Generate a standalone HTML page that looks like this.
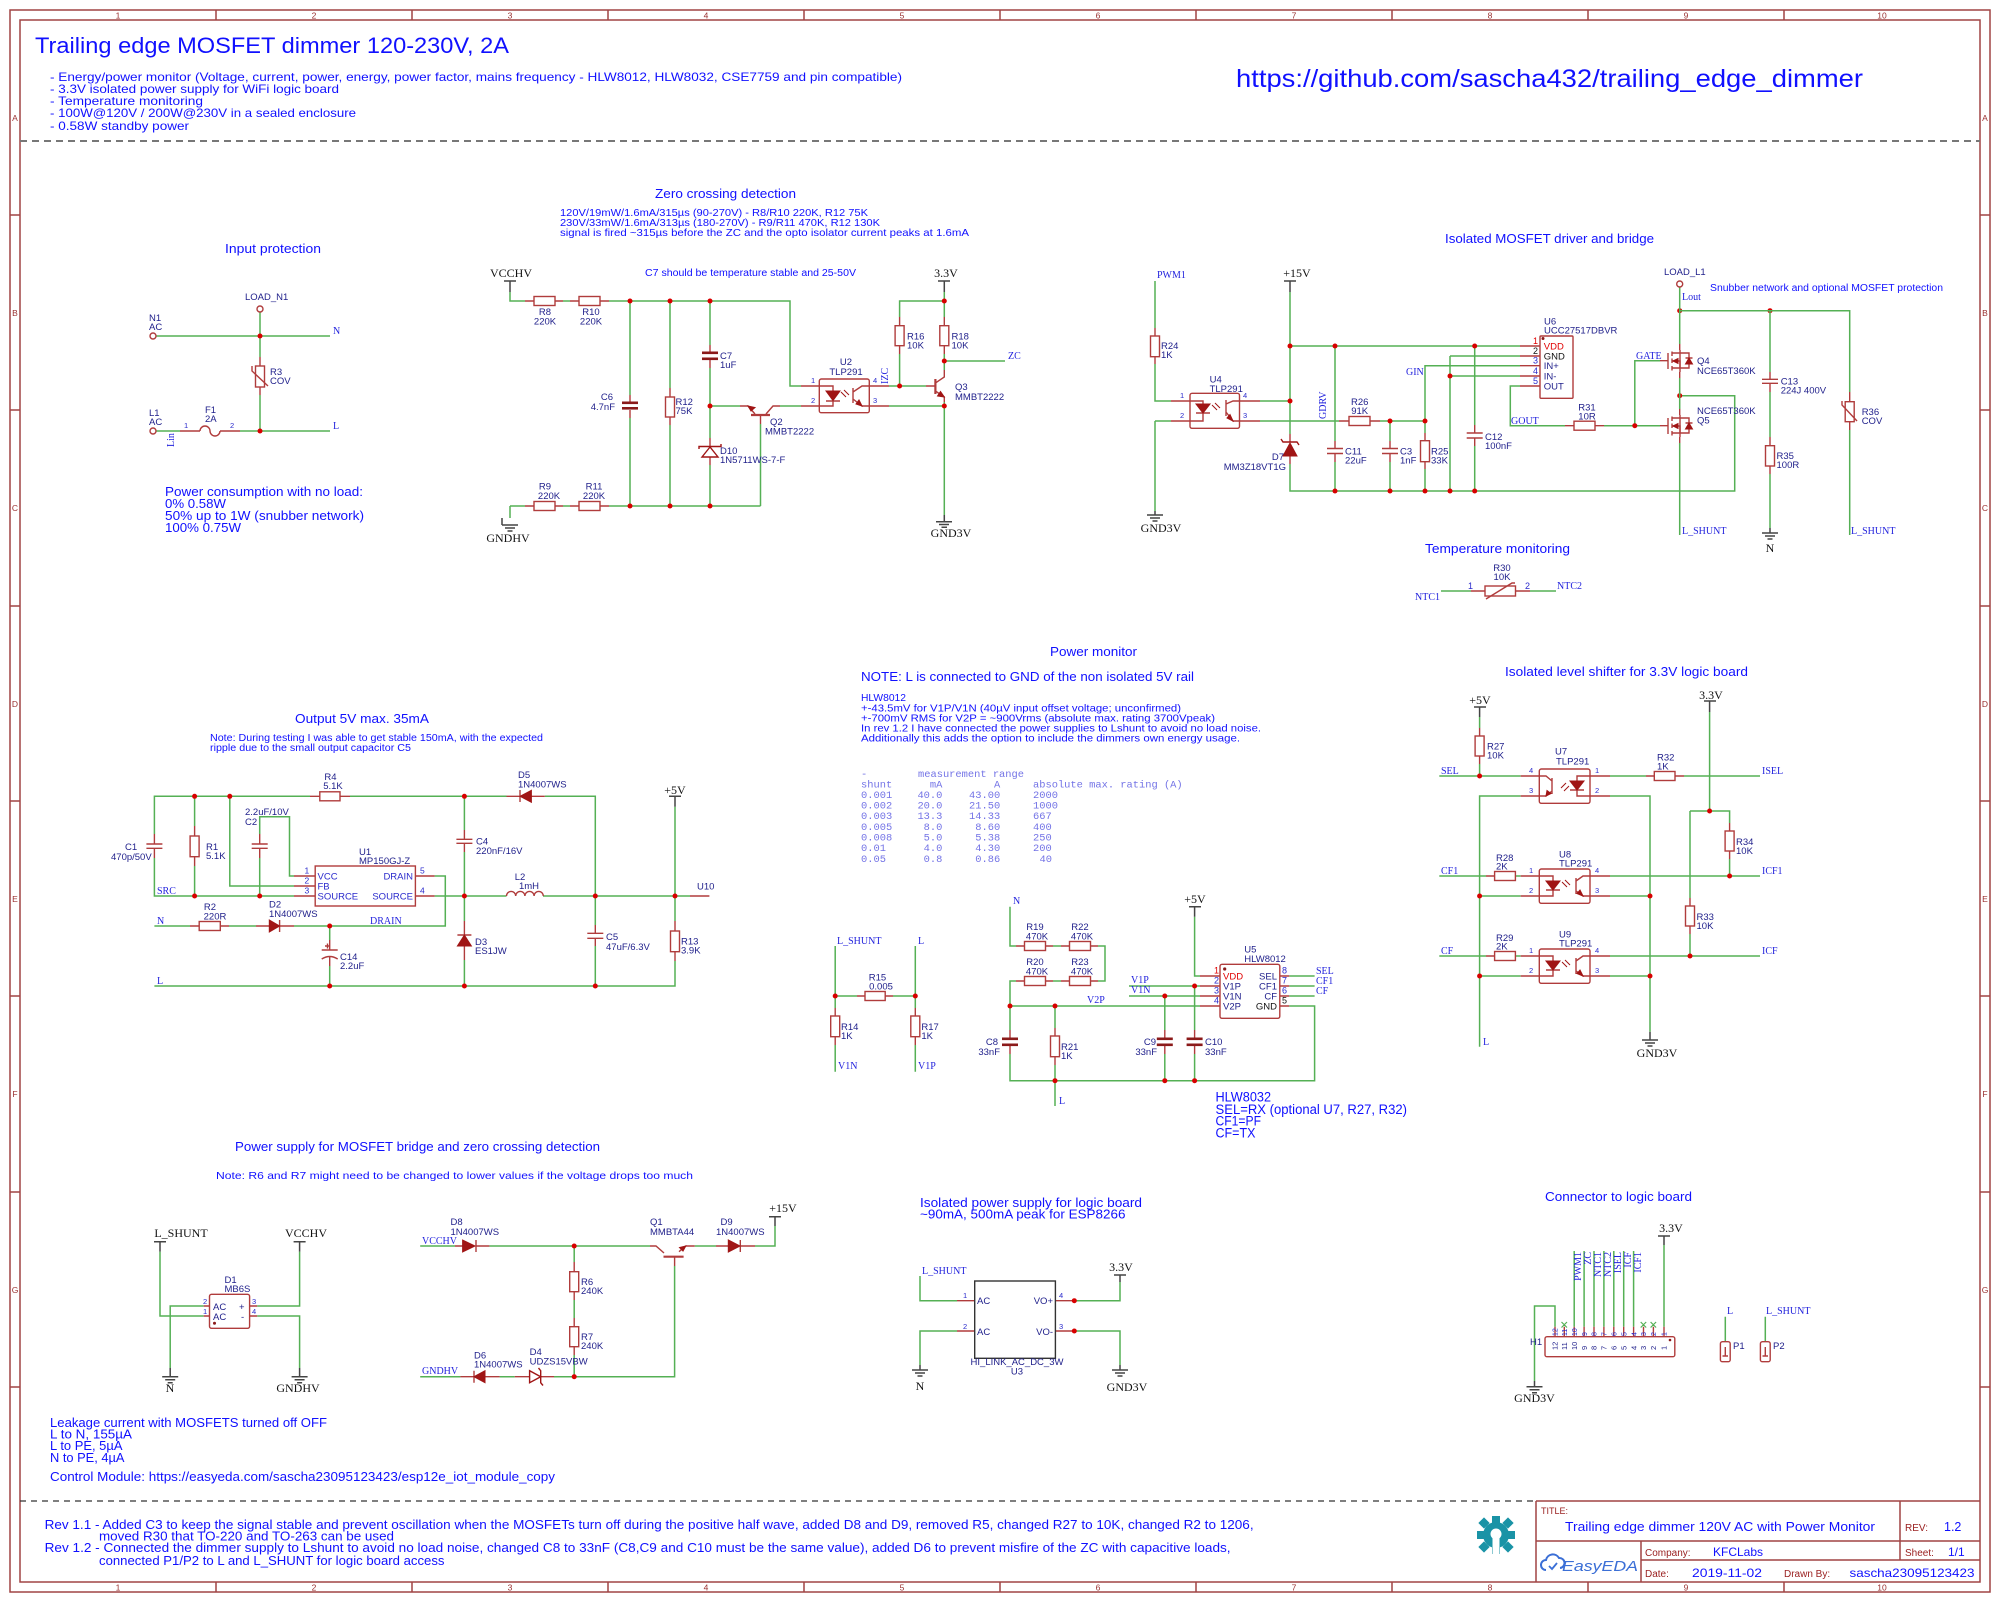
<!DOCTYPE html>
<html><head><meta charset="utf-8"><style>
html,body{margin:0;padding:0;background:#fff}
svg{display:block;font-family:"Liberation Sans",sans-serif}
.w{stroke:#55b055;stroke-width:1.5;fill:none}
.r{stroke:#b03c3c;stroke-width:1.4;fill:none}
.bd{stroke:#b03c3c;stroke-width:1.4;fill:#fff}
.pl{fill:#8b1a1a}
.dk{fill:#a01515;stroke:#a01515;stroke-width:1}
.j{fill:#d80000}
.pw{stroke:#444;stroke-width:1.5;fill:none}
.fr{stroke:#a04444;stroke-width:1.5;fill:none}
.t{fill:#1e1e8a;font-size:9.5px}
.nb{fill:#1010ff}
.sf{font-family:"Liberation Serif",serif;fill:#2323dd;font-size:10px}
.pk{font-family:"Liberation Serif",serif;fill:#111;font-size:12px}
.pn{fill:#2a2acc;font-size:7.5px}
.fl{fill:#9a3030;font-size:8.5px}
.mono{font-family:"Liberation Mono",monospace;fill:#7373e6;font-size:10.4px}
.gx{stroke:#55b055;stroke-width:1.2;fill:none}
</style></head><body>
<svg width="2000" height="1602" viewBox="0 0 2000 1602" xmlns="http://www.w3.org/2000/svg">
<rect width="2000" height="1602" fill="#fff"/>
<!-- FRAME -->
<rect class="fr" x="10" y="10" width="1980" height="1582"/>
<rect class="fr" x="20" y="20" width="1960" height="1562"/>
<path class="fr" d="M216 10V20M412 10V20M608 10V20M804 10V20M1000 10V20M1196 10V20M1392 10V20M1588 10V20M1784 10V20M216 1582V1592M412 1582V1592M608 1582V1592M804 1582V1592M1000 1582V1592M1196 1582V1592M1392 1582V1592M1588 1582V1592M1784 1582V1592M10 215H20M10 410H20M10 606H20M10 801H20M10 996H20M10 1192H20M10 1387H20M1980 215H1990M1980 410H1990M1980 606H1990M1980 801H1990M1980 996H1990M1980 1192H1990M1980 1387H1990"/>
<g class="fl" text-anchor="middle">
<text x="118" y="18.5">1</text><text x="314" y="18.5">2</text><text x="510" y="18.5">3</text><text x="706" y="18.5">4</text><text x="902" y="18.5">5</text><text x="1098" y="18.5">6</text><text x="1294" y="18.5">7</text><text x="1490" y="18.5">8</text><text x="1686" y="18.5">9</text><text x="1882" y="18.5">10</text>
<text x="118" y="1590.5">1</text><text x="314" y="1590.5">2</text><text x="510" y="1590.5">3</text><text x="706" y="1590.5">4</text><text x="902" y="1590.5">5</text><text x="1098" y="1590.5">6</text><text x="1294" y="1590.5">7</text><text x="1490" y="1590.5">8</text><text x="1686" y="1590.5">9</text><text x="1882" y="1590.5">10</text>
<text x="15" y="121">A</text><text x="15" y="316">B</text><text x="15" y="511">C</text><text x="15" y="707">D</text><text x="15" y="902">E</text><text x="15" y="1097">F</text><text x="15" y="1293">G</text>
<text x="1985" y="121">A</text><text x="1985" y="316">B</text><text x="1985" y="511">C</text><text x="1985" y="707">D</text><text x="1985" y="902">E</text><text x="1985" y="1097">F</text><text x="1985" y="1293">G</text>
</g>
<line x1="20" y1="141" x2="1980" y2="141" stroke="#777" stroke-width="2" stroke-dasharray="7,5"/>
<line x1="20" y1="1501" x2="1536" y2="1501" stroke="#333" stroke-width="1.3" stroke-dasharray="6,5"/>

<!-- HEADER -->
<text class="nb" x="35" y="53" font-size="22" textLength="474" lengthAdjust="spacingAndGlyphs">Trailing edge MOSFET dimmer 120-230V, 2A</text>
<g class="nb" font-size="12">
<text x="50" y="81" textLength="852" lengthAdjust="spacingAndGlyphs">- Energy/power monitor (Voltage, current, power, energy, power factor, mains frequency - HLW8012, HLW8032, CSE7759 and pin compatible)</text>
<text x="50" y="93" textLength="289" lengthAdjust="spacingAndGlyphs">- 3.3V isolated power supply for WiFi logic board</text>
<text x="50" y="105" textLength="153" lengthAdjust="spacingAndGlyphs">- Temperature monitoring</text>
<text x="50" y="117" textLength="306" lengthAdjust="spacingAndGlyphs">- 100W@120V / 200W@230V in a sealed enclosure</text>
<text x="50" y="130" textLength="139" lengthAdjust="spacingAndGlyphs">- 0.58W standby power</text>
</g>
<text class="nb" x="1236" y="87" font-size="25" textLength="627" lengthAdjust="spacingAndGlyphs">https://github.com/sascha432/trailing_edge_dimmer</text>

<!-- INPUT PROTECTION -->
<text class="nb" x="225" y="253" font-size="13" textLength="96" lengthAdjust="spacingAndGlyphs">Input protection</text>
<path class="w" d="M260 312V357M156 336H330M156 431H180M240 431H330M260 395V431"/>
<path class="r" d="M260 357V366M260 387V395M180 431H200M220 431H240M200 431a5 5 0 0 1 10 0a5 5 0 0 0 10 0"/>
<rect class="bd" x="255.5" y="366" width="9" height="21"/>
<path class="r" d="M252 366V371L268 386"/>
<circle cx="260" cy="309" r="3" class="bd"/>
<circle cx="153" cy="336" r="3" class="bd"/>
<circle cx="153" cy="431" r="3" class="bd"/>
<circle class="j" cx="260" cy="336" r="2.5"/><circle class="j" cx="260" cy="431" r="2.5"/>
<g class="t">
<text x="245" y="300">LOAD_N1</text>
<text x="149" y="321">N1</text><text x="149" y="330">AC</text>
<text x="149" y="416">L1</text><text x="149" y="425">AC</text>
<text x="205" y="413">F1</text><text x="205" y="422">2A</text>
<text x="270" y="375">R3</text><text x="270" y="384">COV</text>
</g>
<text class="pn" x="184" y="428">1</text><text class="pn" x="230" y="428">2</text>
<text class="sf" x="333" y="334">N</text><text class="sf" x="333" y="429">L</text>
<text class="sf" font-size="8" transform="translate(174,447) rotate(-90)">Lin</text>
<g class="nb" font-size="12.5">
<text x="165" y="496" textLength="198" lengthAdjust="spacingAndGlyphs">Power consumption with no load:</text>
<text x="165" y="508" textLength="61" lengthAdjust="spacingAndGlyphs">0% 0.58W</text>
<text x="165" y="520" textLength="199" lengthAdjust="spacingAndGlyphs">50% up to 1W (snubber network)</text>
<text x="165" y="532" textLength="76" lengthAdjust="spacingAndGlyphs">100% 0.75W</text>
</g>

<!-- ZERO CROSSING -->
<text class="nb" x="655" y="198" font-size="13" textLength="141" lengthAdjust="spacingAndGlyphs">Zero crossing detection</text>
<g class="nb" font-size="10.5">
<text x="560" y="216" textLength="308" lengthAdjust="spacingAndGlyphs">120V/19mW/1.6mA/315µs (90-270V) - R8/R10 220K, R12 75K</text>
<text x="560" y="226" textLength="320" lengthAdjust="spacingAndGlyphs">230V/33mW/1.6mA/313µs (180-270V) - R9/R11 470K, R12 130K</text>
<text x="560" y="236" textLength="409" lengthAdjust="spacingAndGlyphs">signal is fired ~315µs before the ZC and the opto isolator current peaks at 1.6mA</text>
<text x="645" y="276" font-size="10" textLength="211" lengthAdjust="spacingAndGlyphs">C7 should be temperature stable and 25-50V</text>
</g>
<text class="pk" x="511" y="277" text-anchor="middle">VCCHV</text>
<path class="pw" d="M504 281H516M510 281V292"/>
<path class="w" d="M510 292V301H525M563 301H570M609 301H790V386H801M630 301V395M630 418V506M670 301V388M670 425V506M710 301V345M710 368V438M710 465V506M710 406H740M780 406H801M760.5 424V506M510 506H525M563 506H570M609 506H760.5M510 506V518"/>
<path class="r" d="M525 301H534M555 301H563M570 301H579M600 301H609M525 506H534M555 506H563M570 506H579M600 506H609M630 395V402M630 410V418M670 388V397M670 417V425M710 345V352M710 360V368M710 438V446M710 457V465M801 386H819M801 406H819M740 406H748L755 414M766 414L773 406H780M760.5 415V424"/>
<path d="M751 415H770" stroke="#b03c3c" stroke-width="2.2"/>
<polygon class="dk" points="748,406 755,407.5 751,411"/>
<rect class="bd" x="534" y="296.5" width="21" height="9"/><rect class="bd" x="579" y="296.5" width="21" height="9"/>
<rect class="bd" x="534" y="501.5" width="21" height="9"/><rect class="bd" x="579" y="501.5" width="21" height="9"/>
<rect class="pl" x="622" y="401.5" width="16" height="2.6"/><rect class="pl" x="622" y="407" width="16" height="2.6"/>
<rect class="bd" x="665.5" y="397" width="9" height="20"/>
<rect class="pl" x="702" y="351.5" width="16" height="2.6"/><rect class="pl" x="702" y="357.5" width="16" height="2.6"/>
<polygon points="710,447 702,457 718,457" fill="none" stroke="#a01515" stroke-width="1.4"/>
<path d="M699 449V446.5H721V444" stroke="#a01515" stroke-width="1.4" fill="none"/>
<path class="pw" d="M502 518V525M502 525H518M505 528H515M507.5 531H512.5" />
<text class="pk" x="508" y="542" text-anchor="middle">GNDHV</text>
<g class="j"><circle cx="630" cy="301" r="2.5"/><circle cx="670" cy="301" r="2.5"/><circle cx="710" cy="301" r="2.5"/><circle cx="630" cy="506" r="2.5"/><circle cx="670" cy="506" r="2.5"/><circle cx="710" cy="506" r="2.5"/><circle cx="710" cy="406" r="2.5"/></g>
<g class="t">
<text x="545" y="315" text-anchor="middle">R8</text><text x="545" y="324.5" text-anchor="middle">220K</text>
<text x="591" y="315" text-anchor="middle">R10</text><text x="591" y="324.5" text-anchor="middle">220K</text>
<text x="545" y="489.5" text-anchor="middle">R9</text><text x="549" y="499" text-anchor="middle">220K</text>
<text x="594" y="489.5" text-anchor="middle">R11</text><text x="594" y="499" text-anchor="middle">220K</text>
<text x="613" y="400" text-anchor="end">C6</text><text x="615" y="410" text-anchor="end">4.7nF</text>
<text x="675.5" y="405">R12</text><text x="675.5" y="414">75K</text>
<text x="720" y="359">C7</text><text x="720" y="368">1uF</text>
<text x="720" y="454">D10</text><text x="720" y="463">1N5711WS-7-F</text>
<text x="770" y="425">Q2</text><text x="765" y="434.5">MMBT2222</text>
<text x="846" y="365" text-anchor="middle">U2</text><text x="846" y="375" text-anchor="middle">TLP291</text>
<text x="907" y="339.5">R16</text><text x="907" y="348.5">10K</text>
<text x="951.5" y="339.5">R18</text><text x="951.5" y="348.5">10K</text>
<text x="955" y="390">Q3</text><text x="955" y="400">MMBT2222</text>
</g>
<!-- U2 opto -->
<rect class="bd" x="819.3" y="379" width="50" height="33.7" rx="2"/>
<path class="r" d="M819 386H833V391M819 406H833V401M826 401H840M853 388V403M853 392L862 386H869M853 399L862 406H869M869 386H889M869 406H889"/>
<polygon class="dk" points="826,391 840,391 833,400.5"/>
<path d="M841 392L846 397M844 390L849 395" stroke="#a01515" stroke-width="1"/>
<polygon class="dk" points="862,406 856,404 859,400"/>
<g class="pn"><text x="811" y="383">1</text><text x="811" y="403">2</text><text x="873" y="383">4</text><text x="873" y="403">3</text></g>
<text class="sf" font-size="9" transform="translate(888,384) rotate(-90)">IZC</text>
<!-- right of U2 -->
<path class="w" d="M889 386H926M899.6 386V354M899.6 317V301H944.3M944.3 292V317M944.3 354V370M944.3 402V515M889 406H944.3M944.3 361H1005"/>
<path class="r" d="M899.6 354V345.7M899.6 325.7V317M944.3 317V325.7M944.3 345.7V354M944.3 370V377L935.4 383M935.4 391L944.3 397V402M926 386H935.4"/>
<path d="M935.4 379V394" stroke="#b03c3c" stroke-width="2.2"/>
<polygon class="dk" points="944.3,397 937.5,396 940.5,391.5"/>
<rect class="bd" x="895.1" y="325.7" width="9" height="20"/><rect class="bd" x="939.8" y="325.7" width="9" height="20"/>
<text class="pk" x="946" y="277" text-anchor="middle">3.3V</text>
<path class="pw" d="M938 281H950M944.3 281V292M944.3 515V521M936 521.7H952M939 524.5H949M941.5 527.3H947"/>
<text class="pk" x="951" y="537" text-anchor="middle">GND3V</text>
<text class="sf" x="1008" y="359">ZC</text>
<g class="j"><circle cx="899.6" cy="386" r="2.5"/><circle cx="944.3" cy="301" r="2.5"/><circle cx="944.3" cy="361" r="2.5"/><circle cx="944.3" cy="406" r="2.5"/></g>

<!-- MOSFET DRIVER -->
<text class="nb" x="1445" y="243" font-size="13" textLength="209" lengthAdjust="spacingAndGlyphs">Isolated MOSFET driver and bridge</text>
<text class="sf" x="1157" y="278" font-size="9">PWM1</text>
<path class="w" d="M1155 281V328M1155 364V401H1171M1155 421H1171M1155 421V511M1260 401H1290M1290 292V434M1290 464V491H1734.7V395.7H1679.7M1260 421H1339M1380 421H1425M1290 346H1520M1335 346V441M1335 462V491M1390 421V441M1390 462V491M1425 421V433M1425 469V491M1425 421V365.7H1520M1450 356H1520M1450 356V491M1450 376H1520M1474.7 346V425M1474.7 446V491M1520 386H1510.3V425.7H1565M1604 425.7H1660M1634.8 425.7V360.7H1660"/>
<path class="r" d="M1155 328V336M1155 356.7V364M1171 401H1190M1171 421H1190M1239.4 401H1260M1239.4 421H1260M1339 421H1349M1370 421H1380M1290 434V442M1290 456V464M1335 441V448.5M1335 453.5V462M1327 448.5H1343M1327 453.5H1343M1390 441V448.5M1390 453.5V462M1382 448.5H1398M1382 453.5H1398M1425 433V440.7M1425 461.7V469M1474.7 425V433M1474.7 438V446M1466.7 433H1482.7M1466.7 438H1482.7M1520 346H1540M1520 356H1540M1520 365.7H1540M1520 376H1540M1520 386H1540M1565 425.7H1574M1595 425.7H1604"/>
<rect class="bd" x="1150.5" y="336" width="9" height="20.7"/>
<rect class="bd" x="1349" y="416.5" width="21" height="9"/>
<rect class="bd" x="1420.5" y="440.7" width="9" height="21"/>
<rect class="bd" x="1574" y="421.2" width="21" height="9"/>
<polygon class="dk" points="1283,456 1297,456 1290,443"/>
<path d="M1281 439L1283 442H1297L1299 445" stroke="#a01515" stroke-width="1.4" fill="none"/>
<!-- U4 -->
<rect class="bd" x="1190" y="393.3" width="49.5" height="35" rx="2"/>
<path class="r" d="M1190 401H1203V404M1190 421H1203V413M1196 413H1210M1226 400V416M1226 404L1233 401H1239M1226 412L1233 421H1239"/>
<polygon class="dk" points="1196,404 1210,404 1203,413"/>
<path d="M1212 405L1217 410M1215 403L1220 408" stroke="#a01515" stroke-width="1"/>
<polygon class="dk" points="1233,421 1227,418 1230,414.5"/>
<g class="pn"><text x="1180" y="398">1</text><text x="1180" y="418">2</text><text x="1243" y="398">4</text><text x="1243" y="418">3</text></g>
<path class="pw" d="M1155 511V515M1147 515H1163M1150 518H1160M1152.5 521H1157.5"/>
<text class="pk" x="1161" y="532" text-anchor="middle">GND3V</text>
<text class="pk" x="1297" y="277" text-anchor="middle">+15V</text>
<path class="pw" d="M1284 281H1296M1290 281V292"/>
<text class="sf" font-size="9" transform="translate(1326,419) rotate(-90)">GDRV</text>
<text class="sf" x="1406" y="375" font-size="9.5">GIN</text>
<text class="sf" x="1511" y="424" font-size="9.5">GOUT</text>
<text class="sf" x="1636" y="359" font-size="9.5">GATE</text>
<!-- U6 -->
<rect class="bd" x="1540" y="336" width="33" height="62.3" rx="1"/>
<circle cx="1543" cy="338.5" r="1.5" fill="#8b1a1a"/>
<text x="1543.8" y="349.5" font-size="9.5" fill="#e00000">VDD</text>
<text x="1543.8" y="359.5" font-size="9.5" fill="#111">GND</text>
<g class="t"><text x="1543.8" y="369">IN+</text><text x="1543.8" y="379.5">IN-</text><text x="1543.8" y="389.5">OUT</text></g>
<g font-size="9" fill="#111"><text x="1533" y="344" fill="#e00000">1</text><text x="1533" y="354">2</text><text x="1533" y="363.7" fill="#2a2acc">3</text><text x="1533" y="374" fill="#2a2acc">4</text><text x="1533" y="384" fill="#2a2acc">5</text></g>
<g class="t">
<text x="1161" y="349">R24</text><text x="1161" y="358">1K</text>
<text x="1209.6" y="382.5">U4</text><text x="1209.6" y="392">TLP291</text>
<text x="1359.7" y="405" text-anchor="middle">R26</text><text x="1359.7" y="414" text-anchor="middle">91K</text>
<text x="1284" y="460" text-anchor="end">D7</text><text x="1286" y="470" text-anchor="end">MM3Z18VT1G</text>
<text x="1345" y="454.5">C11</text><text x="1345" y="463.5">22uF</text>
<text x="1400" y="454.5">C3</text><text x="1400" y="463.5">1nF</text>
<text x="1431" y="454.5">R25</text><text x="1431" y="463.5">33K</text>
<text x="1485" y="440">C12</text><text x="1485" y="449">100nF</text>
<text x="1544" y="324.5">U6</text><text x="1544" y="333.5">UCC27517DBVR</text>
<text x="1587" y="410.5" text-anchor="middle">R31</text><text x="1587" y="419.5" text-anchor="middle">10R</text>
<text x="1697" y="364">Q4</text><text x="1697" y="374">NCE65T360K</text>
<text x="1697" y="414">NCE65T360K</text><text x="1697" y="423.5">Q5</text>
<text x="1664" y="275">LOAD_L1</text>
<text x="1780.7" y="384.5">C13</text><text x="1780.7" y="393.5">224J 400V</text>
<text x="1776.5" y="459">R35</text><text x="1776.5" y="468">100R</text>
<text x="1861.7" y="415">R36</text><text x="1861.7" y="424">COV</text>
</g>
<g class="j"><circle cx="1290" cy="401" r="2.5"/><circle cx="1290" cy="346" r="2.5"/><circle cx="1335" cy="346" r="2.5"/><circle cx="1474.7" cy="346" r="2.5"/><circle cx="1390" cy="421" r="2.5"/><circle cx="1425" cy="421" r="2.5"/><circle cx="1450" cy="376" r="2.5"/><circle cx="1335" cy="491" r="2.5"/><circle cx="1390" cy="491" r="2.5"/><circle cx="1425" cy="491" r="2.5"/><circle cx="1450" cy="491" r="2.5"/><circle cx="1474.7" cy="491" r="2.5"/><circle cx="1634.8" cy="425.7" r="2.5"/><circle cx="1679.7" cy="310.7" r="2.5"/><circle cx="1770" cy="310.7" r="2.5"/><circle cx="1679.7" cy="395.7" r="2.5"/></g>
<!-- MOSFETs -->
<path class="w" d="M1679.7 287V344M1679.7 378V409M1679.7 443V535M1679.7 310.7H1849.7V392M1770 310.7V372M1770 392V437M1770 474V528M1849.7 430V535"/>
<path class="r" d="M1679.7 344V350M1679.7 372V378M1679.7 409V415M1679.7 437V443M1660 360.7H1668M1668 353V369M1672 351.5V356M1672 358.5V363M1672 366V370.5M1672 353H1680M1672 368H1680M1672 361H1680V368M1680 353H1689V368H1680M1685.5 358H1692.5M1660 425.7H1668M1668 418V434M1672 416.5V421M1672 423.5V428M1672 431V435.5M1672 418H1680M1672 433H1680M1672 426H1680V433M1680 418H1689V433H1680M1685.5 423H1692.5M1770 372V379.3M1770 383.3V392M1762 379.3H1778M1762 383.3H1778M1770 437V445.7M1770 466V474M1849.7 392V401.7M1849.7 421.7V430"/>
<path d="M1680 350V372M1680 415V437" stroke="#b03c3c" stroke-width="1.4"/>
<polygon class="dk" points="1685.5,364 1692.5,364 1689,358"/><polygon class="dk" points="1685.5,429 1692.5,429 1689,423"/>
<polygon class="dk" points="1673,361 1678,358.5 1678,363.5"/><polygon class="dk" points="1673,426 1678,423.5 1678,428.5"/>
<rect class="bd" x="1765.5" y="445.7" width="9" height="20.3"/>
<rect class="bd" x="1845.2" y="401.7" width="9" height="20"/>
<path class="r" d="M1842 401V405L1857 421"/>
<circle cx="1679.7" cy="284" r="3" class="bd"/>
<text class="sf" x="1682" y="300" font-size="9">Lout</text>
<path class="pw" d="M1770 528V533M1762 533H1778M1765 536H1775M1767.5 539H1772.5"/>
<text class="pk" x="1770" y="552" text-anchor="middle">N</text>
<text class="sf" x="1682" y="534" font-size="9.5">L_SHUNT</text>
<text class="sf" x="1851" y="534" font-size="9.5">L_SHUNT</text>
<text class="nb" x="1710" y="291" font-size="10" textLength="233" lengthAdjust="spacingAndGlyphs">Snubber network and optional MOSFET protection</text>
<!-- TEMPERATURE -->
<text class="nb" x="1425" y="553" font-size="13" textLength="145" lengthAdjust="spacingAndGlyphs">Temperature monitoring</text>
<path class="w" d="M1441 591H1471M1530 591H1556"/>
<path class="r" d="M1471 591H1485M1515.5 591H1530"/>
<rect class="bd" x="1485" y="586" width="30.5" height="10" fill="none"/>
<path class="r" d="M1486 599L1512 583H1515"/>
<g class="pn"><text x="1468" y="589" font-size="9">1</text><text x="1525" y="589" font-size="9">2</text></g>
<g class="t"><text x="1502" y="571" text-anchor="middle">R30</text><text x="1502" y="580" text-anchor="middle">10K</text></g>
<text class="sf" x="1415" y="600" font-size="9">NTC1</text><text class="sf" x="1557" y="589" font-size="9">NTC2</text>

<!-- POWER MONITOR -->
<text class="nb" x="1050" y="656" font-size="13" textLength="87" lengthAdjust="spacingAndGlyphs">Power monitor</text>
<text class="nb" x="861" y="681" font-size="13" textLength="333" lengthAdjust="spacingAndGlyphs">NOTE: L is connected to GND of the non isolated 5V rail</text>
<g class="nb" font-size="10.5">
<text x="861" y="701" textLength="45" lengthAdjust="spacingAndGlyphs">HLW8012</text>
<text x="861" y="711.5" textLength="320" lengthAdjust="spacingAndGlyphs">+-43.5mV for V1P/V1N (40µV input offset voltage; unconfirmed)</text>
<text x="861" y="721.5" textLength="354" lengthAdjust="spacingAndGlyphs">+-700mV RMS for V2P = ~900Vrms (absolute max. rating 3700Vpeak)</text>
<text x="861" y="731.5" textLength="400" lengthAdjust="spacingAndGlyphs">In rev 1.2 I have connected the power supplies to Lshunt to avoid no load noise.</text>
<text x="861" y="741.5" textLength="379" lengthAdjust="spacingAndGlyphs">Additionally this adds the option to include the dimmers own energy usage.</text>
</g>
<g class="mono">
<text x="861" y="777">-</text><text x="918" y="777">measurement range</text>
<text x="861" y="787.5">shunt</text><text x="942.4" y="787.5" text-anchor="end">mA</text><text x="1000.2" y="787.5" text-anchor="end">A</text><text x="1033" y="787.5">absolute max. rating (A)</text>
<text x="861" y="798">0.001</text><text x="942.4" y="798" text-anchor="end">40.0</text><text x="1000.2" y="798" text-anchor="end">43.00</text><text x="1033" y="798">2000</text>
<text x="861" y="808.5">0.002</text><text x="942.4" y="808.5" text-anchor="end">20.0</text><text x="1000.2" y="808.5" text-anchor="end">21.50</text><text x="1033" y="808.5">1000</text>
<text x="861" y="819">0.003</text><text x="942.4" y="819" text-anchor="end">13.3</text><text x="1000.2" y="819" text-anchor="end">14.33</text><text x="1033" y="819">667</text>
<text x="861" y="830">0.005</text><text x="942.4" y="830" text-anchor="end">8.0</text><text x="1000.2" y="830" text-anchor="end">8.60</text><text x="1033" y="830">400</text>
<text x="861" y="840.5">0.008</text><text x="942.4" y="840.5" text-anchor="end">5.0</text><text x="1000.2" y="840.5" text-anchor="end">5.38</text><text x="1033" y="840.5">250</text>
<text x="861" y="851">0.01</text><text x="942.4" y="851" text-anchor="end">4.0</text><text x="1000.2" y="851" text-anchor="end">4.30</text><text x="1033" y="851">200</text>
<text x="861" y="862">0.05</text><text x="942.4" y="862" text-anchor="end">0.8</text><text x="1000.2" y="862" text-anchor="end">0.86</text><text x="1039.5" y="862">40</text>
</g>
<path class="w" d="M835.2 946V1008M835.2 1045V1071.7M835.2 996H857M893 996H915.3M915.3 946V1008M915.3 1045V1071.7M1010 906.7V946H1016M1053 946H1061M1098 946H1105V981H1098M1061 981H1053M1016 981H1010V1030M1010 1054V1080.7H1314.6V1006H1289.2M1010 1006H1200M1055 1006V1028M1055 1065V1106M1129 986H1200M1129 996H1200M1164.8 996V1030M1164.8 1054V1080.7M1194.6 986V1030M1194.6 1054V1080.7M1194.6 916.7V976H1200M1289.2 976H1314.6M1289.2 986H1314.6M1289.2 996H1314.6"/>
<path class="r" d="M857 996H865M885.2 996H893M835.2 1008V1016M835.2 1036.7V1045M915.3 1008V1016M915.3 1036.7V1045M1016 946H1024.5M1045.5 946H1053M1061 946H1069.5M1090.5 946H1098M1016 981H1024.5M1045.5 981H1053M1061 981H1069.5M1090.5 981H1098M1010 1030V1038M1010 1046V1054M1055 1028V1036M1055 1056.7V1065M1164.8 1030V1038M1164.8 1046V1054M1194.6 1030V1038M1194.6 1046V1054M1200 976H1220M1200 986H1220M1200 996H1220M1200 1006H1220M1279.8 976H1289.2M1279.8 986H1289.2M1279.8 996H1289.2M1279.8 1006H1289.2"/>
<rect class="bd" x="865" y="991.5" width="20.2" height="9"/>
<rect class="bd" x="830.7" y="1016" width="9" height="20.7"/><rect class="bd" x="910.8" y="1016" width="9" height="20.7"/>
<rect class="bd" x="1024.5" y="941.5" width="21" height="9"/><rect class="bd" x="1069.5" y="941.5" width="21" height="9"/>
<rect class="bd" x="1024.5" y="976.5" width="21" height="9"/><rect class="bd" x="1069.5" y="976.5" width="21" height="9"/>
<rect class="bd" x="1050.5" y="1036" width="9" height="20.7"/>
<rect class="pl" x="1002" y="1037.5" width="16" height="2.6"/><rect class="pl" x="1002" y="1043.5" width="16" height="2.6"/>
<rect class="pl" x="1156.8" y="1037.5" width="16" height="2.6"/><rect class="pl" x="1156.8" y="1043.5" width="16" height="2.6"/>
<rect class="pl" x="1186.6" y="1037.5" width="16" height="2.6"/><rect class="pl" x="1186.6" y="1043.5" width="16" height="2.6"/>
<rect class="bd" x="1220" y="964.3" width="59.8" height="54" rx="2"/>
<circle cx="1224.7" cy="969" r="1.6" fill="#8b1a1a"/>
<text x="1223" y="979.5" font-size="9.5" fill="#e00000">VDD</text>
<text x="1277" y="1009.5" font-size="9.5" fill="#111" text-anchor="end">GND</text>
<g class="t"><text x="1223" y="989.5">V1P</text><text x="1223" y="999.5">V1N</text><text x="1223" y="1009.5">V2P</text>
<text x="1277" y="979.5" text-anchor="end">SEL</text><text x="1277" y="989.5" text-anchor="end">CF1</text><text x="1277" y="999.5" text-anchor="end">CF</text></g>
<g font-size="9" fill="#2a2acc"><text x="1219" y="973.5" text-anchor="end" fill="#e00000">1</text><text x="1219" y="983.5" text-anchor="end">2</text><text x="1219" y="993.5" text-anchor="end">3</text><text x="1219" y="1003.5" text-anchor="end">4</text>
<text x="1282" y="973.5">8</text><text x="1282" y="983.5">7</text><text x="1282" y="993.5">6</text><text x="1282" y="1003.5" fill="#111">5</text></g>
<text class="pk" x="1195" y="903" text-anchor="middle">+5V</text>
<path class="pw" d="M1189 906.7H1201M1194.6 906.7V916.7"/>
<g class="j"><circle cx="835.2" cy="996" r="2.5"/><circle cx="915.3" cy="996" r="2.5"/><circle cx="1010" cy="1006" r="2.5"/><circle cx="1055" cy="1006" r="2.5"/><circle cx="1055" cy="1080.7" r="2.5"/><circle cx="1164.8" cy="996" r="2.5"/><circle cx="1194.6" cy="986" r="2.5"/><circle cx="1164.8" cy="1080.7" r="2.5"/><circle cx="1194.6" cy="1080.7" r="2.5"/></g>
<g class="sf" font-size="9.5">
<text x="837" y="944">L_SHUNT</text><text x="918" y="944">L</text><text x="838" y="1069">V1N</text><text x="918" y="1069">V1P</text>
<text x="1013" y="904">N</text><text x="1087" y="1003">V2P</text><text x="1131" y="983">V1P</text><text x="1131" y="993">V1N</text>
<text x="1059" y="1104">L</text><text x="1316" y="974">SEL</text><text x="1316" y="984">CF1</text><text x="1316" y="994">CF</text>
</g>
<g class="t">
<text x="877.5" y="980.5" text-anchor="middle">R15</text><text x="881" y="989.5" text-anchor="middle">0.005</text>
<text x="841" y="1030">R14</text><text x="841" y="1039">1K</text>
<text x="921.4" y="1030">R17</text><text x="921.4" y="1039">1K</text>
<text x="1035" y="930" text-anchor="middle">R19</text><text x="1037" y="939.5" text-anchor="middle">470K</text>
<text x="1080" y="930" text-anchor="middle">R22</text><text x="1082" y="939.5" text-anchor="middle">470K</text>
<text x="1035" y="965" text-anchor="middle">R20</text><text x="1037" y="974.5" text-anchor="middle">470K</text>
<text x="1080" y="965" text-anchor="middle">R23</text><text x="1082" y="974.5" text-anchor="middle">470K</text>
<text x="998" y="1045" text-anchor="end">C8</text><text x="1000" y="1055" text-anchor="end">33nF</text>
<text x="1061" y="1050">R21</text><text x="1061" y="1059">1K</text>
<text x="1156" y="1045" text-anchor="end">C9</text><text x="1157" y="1055" text-anchor="end">33nF</text>
<text x="1205" y="1045">C10</text><text x="1205" y="1055">33nF</text>
<text x="1244.3" y="952.5">U5</text><text x="1244.3" y="962">HLW8012</text>
</g>
<g class="nb" font-size="13.5">
<text x="1215.5" y="1101.5" textLength="55.5" lengthAdjust="spacingAndGlyphs">HLW8032</text>
<text x="1215.5" y="1114" textLength="191.5" lengthAdjust="spacingAndGlyphs">SEL=RX (optional U7, R27, R32)</text>
<text x="1215.5" y="1125.5" textLength="45.5" lengthAdjust="spacingAndGlyphs">CF1=PF</text>
<text x="1215.5" y="1137.5" textLength="40" lengthAdjust="spacingAndGlyphs">CF=TX</text>
</g>

<!-- OUTPUT 5V -->
<text class="nb" x="295" y="723" font-size="13" textLength="134" lengthAdjust="spacingAndGlyphs">Output 5V max. 35mA</text>
<g class="nb" font-size="10"><text x="210" y="741" textLength="333" lengthAdjust="spacingAndGlyphs">Note: During testing I was able to get stable 150mA, with the expected</text>
<text x="210" y="751" textLength="201" lengthAdjust="spacingAndGlyphs">ripple due to the small output capacitor C5</text></g>
<path class="w" d="M154.4 834V796.3H310M350 796.3H506.5M544.8 796.3H595.3V925M595.3 946V986M154.4 858V896H294M194.6 796.3V826M194.6 866V896M229.8 796.3V886H294M259.7 896V858M259.7 834V816.7H289.5V876H294M434.6 876H445.3V926H294M256 926H229M190 926H154.4M434.6 896H506.5M543 896H690M464.4 796.3V830M464.4 852V921M464.4 960V986M329.7 926V940M329.7 966V986M154.4 986H675V961M675 806.7V921"/>
<path class="r" d="M310 796.3H319.8M340 796.3H350M506.5 796.3H520M531.4 796.3H544.8M154.4 834V844M154.4 848.3V858M146.4 844H162.4M146.4 848.3H162.4M194.6 826V836M194.6 856.7V866M259.7 858V848.3M259.7 844V834M251.7 844H267.7M251.7 848.3H267.7M294 876H315.2M294 886H315.2M294 896H315.2M415.4 876H434.6M415.4 896H434.6M190 926H199.2M220.3 926H229M256 926H269.3M279.6 926H294M464.4 830V839.3M464.4 843.3V852M456.4 839.3H472.4M456.4 843.3H472.4M464.4 921V935M464.4 946V960M595.3 925V933.3M595.3 938.3V946M587.3 933.3H603.3M587.3 938.3H603.3M329.7 940V950M329.7 957V966M321.7 950H337.7M675 921V931M675 951.7V961M690 896H709.4M520 790V802M279.6 920V932M457.4 935H471.4"/>
<path class="r" d="M506.5 896a4.6 4.6 0 0 1 9.2 0a4.6 4.6 0 0 1 9.2 0a4.6 4.6 0 0 1 9.2 0a4.6 4.6 0 0 1 9.2 0"/>
<path class="r" d="M321.7 959Q329.7 954 337.7 959M325 946H330M327.5 943.5V948.5"/>
<polygon class="dk" points="520,796.3 531.4,790.3 531.4,802.3"/>
<polygon class="dk" points="269.3,920 269.3,932 279.6,926"/>
<polygon class="dk" points="457.4,946 471.4,946 464.4,935"/>
<rect class="bd" x="319.8" y="791.8" width="20.2" height="9"/>
<rect class="bd" x="190.1" y="836" width="9" height="20.7"/>
<rect class="bd" x="199.2" y="921.5" width="21.1" height="9"/>
<rect class="bd" x="670.5" y="931" width="9" height="20.7"/>
<rect class="bd" x="315.2" y="866" width="100.2" height="40"/>
<g fill="#2a2acc" font-size="9.5"><text x="317.5" y="879.5">VCC</text><text x="317.5" y="889.5">FB</text><text x="317.5" y="899.5">SOURCE</text><text x="413" y="879.5" text-anchor="end">DRAIN</text><text x="413" y="899.5" text-anchor="end">SOURCE</text></g>
<g fill="#2a2acc" font-size="8.5"><text x="304.5" y="873.5">1</text><text x="304.5" y="883.5">2</text><text x="304.5" y="893.5">3</text><text x="420" y="873.5">5</text><text x="420" y="893.5">4</text></g>
<text class="pk" x="675" y="794" text-anchor="middle">+5V</text>
<path class="pw" d="M669 796.3H681M675 796.3V806.7"/>
<g class="j"><circle cx="194.6" cy="796.3" r="2.5"/><circle cx="229.8" cy="796.3" r="2.5"/><circle cx="464.4" cy="796.3" r="2.5"/><circle cx="194.6" cy="896" r="2.5"/><circle cx="259.7" cy="896" r="2.5"/><circle cx="464.4" cy="896" r="2.5"/><circle cx="595.3" cy="896" r="2.5"/><circle cx="675" cy="896" r="2.5"/><circle cx="329.7" cy="926" r="2.5"/><circle cx="329.7" cy="986" r="2.5"/><circle cx="464.4" cy="986" r="2.5"/><circle cx="595.3" cy="986" r="2.5"/></g>
<g class="sf" font-size="9.5"><text x="157" y="894">SRC</text><text x="157" y="924">N</text><text x="157" y="984">L</text><text x="370" y="924">DRAIN</text></g>
<g class="t">
<text x="125" y="850">C1</text><text x="111" y="860">470p/50V</text>
<text x="206" y="850">R1</text><text x="206" y="859">5.1K</text>
<text x="245" y="815">2.2uF/10V</text><text x="245" y="825">C2</text>
<text x="330.5" y="780" text-anchor="middle">R4</text><text x="333" y="789" text-anchor="middle">5.1K</text>
<text x="518" y="778">D5</text><text x="518" y="787.5">1N4007WS</text>
<text x="359" y="855">U1</text><text x="359" y="864">MP150GJ-Z</text>
<text x="210" y="910" text-anchor="middle">R2</text><text x="215" y="919.5" text-anchor="middle">220R</text>
<text x="269" y="907.5">D2</text><text x="269" y="917">1N4007WS</text>
<text x="476" y="844.5">C4</text><text x="476" y="854">220nF/16V</text>
<text x="520" y="880" text-anchor="middle">L2</text><text x="529" y="889" text-anchor="middle">1mH</text>
<text x="475" y="945">D3</text><text x="475" y="954">ES1JW</text>
<text x="606" y="940">C5</text><text x="606" y="950">47uF/6.3V</text>
<text x="681" y="944.5">R13</text><text x="681" y="953.5">3.9K</text>
<text x="340" y="960">C14</text><text x="340" y="969">2.2uF</text>
<text x="697" y="889.5">U10</text>
</g>

<!-- LEVEL SHIFTER -->
<text class="nb" x="1505" y="676" font-size="13" textLength="243" lengthAdjust="spacingAndGlyphs">Isolated level shifter for 3.3V logic board</text>
<text class="pk" x="1480" y="704" text-anchor="middle">+5V</text>
<path class="pw" d="M1474 707H1486M1479.6 707V717M1709.6 701V712M1704 701H1716M1650 1031.7V1040M1642 1040H1658M1645 1043H1655M1647.5 1046H1652.5"/>
<text class="pk" x="1711" y="699" text-anchor="middle">3.3V</text>
<text class="pk" x="1657" y="1057" text-anchor="middle">GND3V</text>
<path class="w" d="M1479.6 717V728M1479.6 764V776M1439.3 776H1520.7M1520.7 796H1479.6V1046.7M1479.6 896H1520.7M1479.6 976H1520.7M1610 776H1646M1684 776H1760M1610 796H1650V1031.7M1610 896H1650M1610 976H1650M1709.6 712V811M1690 811H1729.6V823M1729.6 859V876M1690 811V898M1690 934V956M1439.3 876H1486M1515.4 876H1520.7M1610 876H1760M1439.3 956H1486M1515.4 956H1520.7M1610 956H1760"/>
<path class="r" d="M1479.6 728V736M1479.6 756V764M1520.7 776H1539.3M1520.7 796H1539.3M1590 776H1610M1590 796H1610M1646 776H1654.3M1675 776H1684M1729.6 823V831M1729.6 851V859M1690 898V906M1690 926V934M1486 876H1494.6M1520.7 876H1539.3M1520.7 896H1539.3M1590 876H1610M1590 896H1610M1486 956H1494.6M1520.7 956H1539.3M1520.7 976H1539.3M1590 956H1610M1590 976H1610"/>
<rect class="bd" x="1475.1" y="736" width="9" height="20"/>
<rect class="bd" x="1654.3" y="771.5" width="20.7" height="9"/>
<rect class="bd" x="1725.1" y="831" width="9" height="20"/>
<rect class="bd" x="1685.5" y="906" width="9" height="20"/>
<rect class="bd" x="1494.6" y="871.5" width="20.8" height="9"/>
<rect class="bd" x="1494.6" y="951.5" width="20.8" height="9"/>
<!-- U7 -->
<rect class="bd" x="1539.3" y="769" width="50.7" height="34.3" rx="2"/>
<path class="r" d="M1539.3 776H1546L1552 781M1552 778V794M1552 791L1546 796H1539.3M1590 776H1577V781M1590 796H1577V790M1570 790H1584"/>
<polygon class="dk" points="1570,781 1584,781 1577,790"/>
<polygon class="dk" points="1546,796 1547,790.5 1551,793.5"/>
<path d="M1561 788L1566 783M1564 791L1569 786" stroke="#a01515" stroke-width="1"/>
<!-- U8 -->
<rect class="bd" x="1539.3" y="869" width="50.7" height="34.3" rx="2"/>
<path class="r" d="M1539.3 876H1553V881M1539.3 896H1553V890M1546 890H1560M1576 878V894M1576 881L1583 876H1590M1576 891L1583 896H1590"/>
<polygon class="dk" points="1546,881 1560,881 1553,890"/>
<polygon class="dk" points="1583,896 1577,893.5 1580,890"/>
<path d="M1562 882L1567 887M1565 880L1570 885" stroke="#a01515" stroke-width="1"/>
<!-- U9 -->
<rect class="bd" x="1539.3" y="949" width="50.7" height="34.3" rx="2"/>
<path class="r" d="M1539.3 956H1553V961M1539.3 976H1553V970M1546 970H1560M1576 958V974M1576 961L1583 956H1590M1576 971L1583 976H1590"/>
<polygon class="dk" points="1546,961 1560,961 1553,970"/>
<polygon class="dk" points="1583,976 1577,973.5 1580,970"/>
<path d="M1562 962L1567 967M1565 960L1570 965" stroke="#a01515" stroke-width="1"/>
<g class="pn">
<text x="1529" y="773">4</text><text x="1529" y="793">3</text><text x="1595" y="773">1</text><text x="1595" y="793">2</text>
<text x="1529" y="873">1</text><text x="1529" y="893">2</text><text x="1595" y="873">4</text><text x="1595" y="893">3</text>
<text x="1529" y="953">1</text><text x="1529" y="973">2</text><text x="1595" y="953">4</text><text x="1595" y="973">3</text>
</g>
<g class="j"><circle cx="1479.6" cy="776" r="2.5"/><circle cx="1479.6" cy="896" r="2.5"/><circle cx="1479.6" cy="976" r="2.5"/><circle cx="1650" cy="896" r="2.5"/><circle cx="1650" cy="976" r="2.5"/><circle cx="1709.6" cy="811" r="2.5"/><circle cx="1729.6" cy="876" r="2.5"/><circle cx="1690" cy="956" r="2.5"/></g>
<g class="sf" font-size="9.5">
<text x="1441" y="774">SEL</text><text x="1441" y="874">CF1</text><text x="1441" y="954">CF</text>
<text x="1762" y="774">ISEL</text><text x="1762" y="874">ICF1</text><text x="1762" y="954">ICF</text><text x="1483" y="1045">L</text>
</g>
<g class="t">
<text x="1487" y="749.5">R27</text><text x="1487" y="758.5">10K</text>
<text x="1555" y="754.5">U7</text><text x="1556" y="764.5">TLP291</text>
<text x="1657" y="760.5">R32</text><text x="1657" y="769.5">1K</text>
<text x="1559" y="857.5">U8</text><text x="1559" y="866.5">TLP291</text>
<text x="1496" y="861">R28</text><text x="1496" y="869.5">2K</text>
<text x="1559" y="937.5">U9</text><text x="1559" y="946.5">TLP291</text>
<text x="1496" y="941">R29</text><text x="1496" y="949.5">2K</text>
<text x="1736" y="845">R34</text><text x="1736" y="854">10K</text>
<text x="1696.5" y="920">R33</text><text x="1696.5" y="929">10K</text>
</g>

<!-- POWER SUPPLY MOSFET BRIDGE -->
<text class="nb" x="235" y="1151" font-size="13" textLength="365" lengthAdjust="spacingAndGlyphs">Power supply for MOSFET bridge and zero crossing detection</text>
<text class="nb" x="216" y="1179" font-size="10.5" textLength="477" lengthAdjust="spacingAndGlyphs">Note: R6 and R7 might need to be changed to lower values if the voltage drops too much</text>
<text class="pk" x="181" y="1237" text-anchor="middle">L_SHUNT</text>
<text class="pk" x="306" y="1237" text-anchor="middle">VCCHV</text>
<path class="pw" d="M154 1241.7H166M160 1241.7V1251.7M293.6 1241.7H305.6M299.6 1241.7V1251.7M170.2 1368V1376.7M162.2 1376.7H178.2M165.2 1379.7H175.2M167.7 1382.7H172.7M299.6 1368V1376.7M291.6 1376.7H307.6M294.6 1379.7H304.6M297.1 1382.7H302.1"/>
<path class="w" d="M160 1251.7V1316H203.7M299.6 1251.7V1306H257.2M203.7 1306H170.2V1368M257.2 1316H299.6V1368"/>
<path class="r" d="M203.7 1306H209.5M203.7 1316H209.5M249.6 1306H257.2M249.6 1316H257.2"/>
<rect class="bd" x="209.5" y="1294.3" width="40.1" height="34" rx="2"/>
<circle cx="214.5" cy="1323.3" r="1.5" fill="#8b1a1a"/>
<g class="t"><text x="213" y="1310">AC</text><text x="213" y="1320">AC</text><text x="239" y="1310">+</text><text x="241" y="1320">-</text>
<text x="224.5" y="1283">D1</text><text x="224.5" y="1292">MB6S</text></g>
<g class="pn"><text x="203" y="1304">2</text><text x="203" y="1314">1</text><text x="252" y="1304">3</text><text x="252" y="1314">4</text></g>
<text class="pk" x="170" y="1392" text-anchor="middle">N</text>
<text class="pk" x="298" y="1392" text-anchor="middle">GNDHV</text>
<path class="w" d="M420.2 1246H455M489.4 1246H650M694.7 1246H716M755 1246H775V1226M574.2 1246V1262M574.2 1300V1318M574.2 1355V1376.7M420.2 1376.7H460.4M499.6 1376.7H514.8M554 1376.7H674.6V1266"/>
<path class="r" d="M455 1246H462.6M476 1246H489.4M650 1246H656L664 1253M679 1251.7L685.8 1246H694.7M674.6 1256.7V1266M716 1246H728.3M740.3 1246H755M574.2 1262V1271.7M574.2 1291.7V1300M574.2 1318V1326.7M574.2 1346.7V1355M460.4 1376.7H473.8M485 1376.7H499.6M514.8 1376.7H529.6M540.7 1376.7H554M474 1370.7V1382.7M740.3 1240V1252M476 1240V1252"/>
<path d="M663.5 1256.7H683.6" stroke="#b03c3c" stroke-width="2.2"/>
<polygon class="dk" points="685.8,1246 679.5,1247.5 683,1251"/>
<polygon class="dk" points="462.6,1240 462.6,1252 475,1246"/>
<polygon class="dk" points="728.3,1240 728.3,1252 740,1246"/>
<polygon class="dk" points="474,1376.7 485,1370.7 485,1382.7"/>
<polygon points="529.6,1370.7 529.6,1382.7 540.7,1376.7" fill="none" stroke="#a01515" stroke-width="1.4"/>
<path d="M538.5 1368L540.7 1370.7V1382.7L543 1385.5" stroke="#a01515" stroke-width="1.4" fill="none"/>
<rect class="bd" x="569.7" y="1271.7" width="9" height="20"/>
<rect class="bd" x="569.7" y="1326.7" width="9" height="20"/>
<text class="pk" x="783" y="1212" text-anchor="middle">+15V</text>
<path class="pw" d="M769 1216.7H781M775 1216.7V1226"/>
<g class="j"><circle cx="574.2" cy="1246" r="2.5"/><circle cx="574.2" cy="1376.7" r="2.5"/></g>
<text class="sf" x="422" y="1244" font-size="9">VCCHV</text>
<text class="sf" x="422" y="1374" font-size="9">GNDHV</text>
<g class="t">
<text x="450.5" y="1225">D8</text><text x="450.5" y="1235">1N4007WS</text>
<text x="650" y="1225">Q1</text><text x="650" y="1235">MMBTA44</text>
<text x="720.5" y="1225">D9</text><text x="716" y="1235">1N4007WS</text>
<text x="581" y="1285">R6</text><text x="581" y="1294">240K</text>
<text x="581" y="1340">R7</text><text x="581" y="1349">240K</text>
<text x="474" y="1358.5">D6</text><text x="474" y="1367.5">1N4007WS</text>
<text x="529.6" y="1355">D4</text><text x="529.6" y="1364.5">UDZS15VBW</text>
</g>

<!-- LEAKAGE / CONTROL -->
<g class="nb" font-size="12.5">
<text x="50" y="1427" textLength="277" lengthAdjust="spacingAndGlyphs">Leakage current with MOSFETS turned off OFF</text>
<text x="50" y="1438.5" textLength="82" lengthAdjust="spacingAndGlyphs">L to N, 155µA</text>
<text x="50" y="1450" textLength="72.5" lengthAdjust="spacingAndGlyphs">L to PE, 5µA</text>
<text x="50" y="1462" textLength="74.5" lengthAdjust="spacingAndGlyphs">N to PE, 4µA</text>
<text x="50" y="1481" textLength="505" lengthAdjust="spacingAndGlyphs">Control Module: https://easyeda.com/sascha23095123423/esp12e_iot_module_copy</text>
<text x="44.6" y="1529" textLength="1209" lengthAdjust="spacingAndGlyphs">Rev 1.1 - Added C3 to keep the signal stable and prevent oscillation when the MOSFETs turn off during the positive half wave, added D8 and D9, removed R5, changed R27 to 10K, changed R2 to 1206,</text>
<text x="99" y="1540.5" textLength="295" lengthAdjust="spacingAndGlyphs">moved R30 that TO-220 and TO-263 can be used</text>
<text x="44.6" y="1552" textLength="1186" lengthAdjust="spacingAndGlyphs">Rev 1.2 - Connected the dimmer supply to Lshunt to avoid no load noise, changed C8 to 33nF (C8,C9 and C10 must be the same value), added D6 to prevent misfire of the ZC with capacitive loads,</text>
<text x="99" y="1565" textLength="345.5" lengthAdjust="spacingAndGlyphs">connected P1/P2 to L and L_SHUNT for logic board access</text>
</g>

<!-- ISOLATED PSU -->
<g class="nb" font-size="12.5"><text x="920" y="1207" textLength="222" lengthAdjust="spacingAndGlyphs">Isolated power supply for logic board</text>
<text x="920" y="1218.5" textLength="205.5" lengthAdjust="spacingAndGlyphs">~90mA, 500mA peak for ESP8266</text></g>
<text class="sf" x="922" y="1274" font-size="9">L_SHUNT</text>
<path class="w" d="M920 1276V1300.7H957M957 1331H920V1365M1074.3 1300.7H1120V1282M1074.3 1331H1120V1365"/>
<path class="r" d="M957 1300.7H974.7M957 1331H974.7M1055.4 1300.7H1074.3M1055.4 1331H1074.3"/>
<path class="pw" d="M920 1365V1370M912 1370H928M915 1373H925M917.5 1376H922.5M1120 1365V1370M1112 1370H1128M1115 1373H1125M1117.5 1376H1122.5M1114 1275H1126M1120 1275V1282"/>
<rect x="974.7" y="1281" width="80.7" height="77.3" fill="#fff" stroke="#333" stroke-width="1.4"/>
<g class="t"><text x="977" y="1304">AC</text><text x="977" y="1335">AC</text><text x="1053" y="1304" text-anchor="end">VO+</text><text x="1053" y="1335" text-anchor="end">VO-</text>
<text x="1017" y="1365" text-anchor="middle">HI_LINK_AC_DC_3W</text><text x="1017" y="1374.5" text-anchor="middle">U3</text></g>
<g class="pn" font-size="8.5"><text x="963" y="1298">1</text><text x="963" y="1329">2</text><text x="1059" y="1298">4</text><text x="1059" y="1329">3</text></g>
<g class="j"><circle cx="1074.3" cy="1300.7" r="2.5"/><circle cx="1074.3" cy="1331" r="2.5"/></g>
<text class="pk" x="1121" y="1271" text-anchor="middle">3.3V</text>
<text class="pk" x="920" y="1390" text-anchor="middle">N</text>
<text class="pk" x="1127" y="1391" text-anchor="middle">GND3V</text>

<!-- CONNECTOR -->
<text class="nb" x="1545" y="1201" font-size="12.5" textLength="147" lengthAdjust="spacingAndGlyphs">Connector to logic board</text>
<text class="pk" x="1671" y="1232" text-anchor="middle">3.3V</text>
<path class="pw" d="M1658 1236H1670M1664 1236V1245M1534.5 1381V1386.7M1526.5 1386.7H1542.5M1529.5 1389.7H1539.5M1532 1392.7H1537"/>
<text class="pk" x="1534.5" y="1402" text-anchor="middle">GND3V</text>
<path class="w" d="M1664 1245V1326.7M1555 1326.7V1306H1534.5V1381M1574.2 1326.7V1251M1584.1 1326.7V1251M1594 1326.7V1251M1603.9 1326.7V1251M1613.8 1326.7V1251M1623.7 1326.7V1251M1633.6 1326.7V1251"/>
<path class="r" d="M1555 1326.7V1336.7M1564.3 1326.7V1336.7M1574.2 1326.7V1336.7M1584.1 1326.7V1336.7M1594 1326.7V1336.7M1603.9 1326.7V1336.7M1613.8 1326.7V1336.7M1623.7 1326.7V1336.7M1633.6 1326.7V1336.7M1643.5 1326.7V1336.7M1653.4 1326.7V1336.7M1664 1326.7V1336.7"/>
<path class="gx" d="M1561.5 1322L1567 1327.5M1567 1322L1561.5 1327.5M1640.7 1322L1646.2 1327.5M1646.2 1322L1640.7 1327.5M1650.6 1322L1656.1 1327.5M1656.1 1322L1650.6 1327.5"/>
<rect class="bd" x="1545" y="1336.7" width="129.8" height="20" rx="2"/>
<circle cx="1670" cy="1340" r="1.3" fill="#8b1a1a"/>
<g fill="#2a2acc" font-size="7">
<text transform="translate(1557.5,1336) rotate(-90)">12</text><text transform="translate(1567,1336) rotate(-90)">11</text><text transform="translate(1577,1336) rotate(-90)">10</text><text transform="translate(1586.8,1336) rotate(-90)">9</text><text transform="translate(1596.7,1336) rotate(-90)">8</text><text transform="translate(1606.6,1336) rotate(-90)">7</text><text transform="translate(1616.5,1336) rotate(-90)">6</text><text transform="translate(1626.4,1336) rotate(-90)">5</text><text transform="translate(1636.3,1336) rotate(-90)">4</text><text transform="translate(1646.2,1336) rotate(-90)">3</text><text transform="translate(1656.1,1336) rotate(-90)">2</text><text transform="translate(1666.5,1336) rotate(-90)">1</text>
</g>
<g fill="#1e1e8a" font-size="7.5">
<text transform="translate(1557.5,1350) rotate(-90)">12</text><text transform="translate(1567,1350) rotate(-90)">11</text><text transform="translate(1577,1350) rotate(-90)">10</text><text transform="translate(1586.8,1350) rotate(-90)">9</text><text transform="translate(1596.7,1350) rotate(-90)">8</text><text transform="translate(1606.6,1350) rotate(-90)">7</text><text transform="translate(1616.5,1350) rotate(-90)">6</text><text transform="translate(1626.4,1350) rotate(-90)">5</text><text transform="translate(1636.3,1350) rotate(-90)">4</text><text transform="translate(1646.2,1350) rotate(-90)">3</text><text transform="translate(1656.1,1350) rotate(-90)">2</text><text transform="translate(1666.5,1350) rotate(-90)">1</text>
</g>
<g class="sf" font-size="8.5" text-anchor="end">
<text transform="translate(1581,1252) rotate(-90)">PWM1</text><text transform="translate(1591,1252) rotate(-90)">ZC</text><text transform="translate(1601,1252) rotate(-90)">NTC1</text><text transform="translate(1611,1252) rotate(-90)">NTC2</text><text transform="translate(1621,1252) rotate(-90)">ISEL</text><text transform="translate(1631,1252) rotate(-90)">ICF</text><text transform="translate(1641,1252) rotate(-90)">ICF1</text>
</g>
<text class="t" x="1530" y="1345">H1</text>
<path class="w" d="M1725.3 1316.7V1341.7M1765.3 1316.7V1341.7"/>
<rect class="bd" x="1720.4" y="1341.7" width="9.8" height="20" rx="2"/>
<rect class="bd" x="1760.4" y="1341.7" width="9.8" height="20" rx="2"/>
<path class="r" d="M1725.3 1347V1356M1722.5 1356H1728M1765.3 1347V1356M1762.5 1356H1768"/>
<text class="sf" x="1727" y="1314" font-size="9">L</text>
<text class="sf" x="1766" y="1314" font-size="9">L_SHUNT</text>
<g class="t"><text x="1733" y="1349">P1</text><text x="1773" y="1349">P2</text></g>

<!-- TITLE BLOCK -->
<path class="fr" d="M1536 1501H1980M1536 1501V1582M1536 1541H1980M1641 1541V1582M1641 1560H1980M1900 1501V1560"/>
<text x="1541" y="1514" font-size="9" fill="#9a2020">TITLE:</text>
<text class="nb" x="1565" y="1531" font-size="13" textLength="310" lengthAdjust="spacingAndGlyphs">Trailing edge dimmer 120V AC with Power Monitor</text>
<text x="1905" y="1531" font-size="10" fill="#9a2020">REV:</text>
<text class="nb" x="1944" y="1531" font-size="12.5">1.2</text>
<text x="1645" y="1556" font-size="10" fill="#9a2020">Company:</text>
<text class="nb" x="1713" y="1556" font-size="12">KFCLabs</text>
<text x="1905" y="1556" font-size="10" fill="#9a2020">Sheet:</text>
<text class="nb" x="1948" y="1556" font-size="12">1/1</text>
<text x="1645" y="1577" font-size="10" fill="#9a2020">Date:</text>
<text class="nb" x="1692" y="1577" font-size="12" textLength="70" lengthAdjust="spacingAndGlyphs">2019-11-02</text>
<text x="1784" y="1577" font-size="10" fill="#9a2020">Drawn By:</text>
<text class="nb" x="1849.5" y="1577" font-size="12" textLength="125" lengthAdjust="spacingAndGlyphs">sascha23095123423</text>
<!-- gear logo -->
<g fill="#1a93a6">
<circle cx="1496" cy="1535" r="13"/>
<rect x="1492" y="1516" width="8" height="8"/><rect x="1492" y="1546" width="8" height="8"/>
<rect x="1477" y="1531" width="8" height="8"/><rect x="1507" y="1531" width="8" height="8"/>
<rect x="1480" y="1519" width="8" height="8" transform="rotate(45 1484 1523)"/><rect x="1504" y="1519" width="8" height="8" transform="rotate(45 1508 1523)"/>
<rect x="1480" y="1543" width="8" height="8" transform="rotate(45 1484 1547)"/><rect x="1504" y="1543" width="8" height="8" transform="rotate(45 1508 1547)"/>
</g>
<circle cx="1496" cy="1534" r="5.5" fill="#fff"/>
<rect x="1492.5" y="1534" width="7" height="22" fill="#fff"/>
<!-- EasyEDA logo -->
<path d="M1546 1570a5 5 0 0 1 0-10a7 7 0 0 1 13-2a5 5 0 0 1 1 10" fill="none" stroke="#3b6fd6" stroke-width="2"/>
<path d="M1549 1566l3 3 5-6" fill="none" stroke="#3b6fd6" stroke-width="1.8"/>
<text x="1562" y="1571" font-size="15" font-style="italic" fill="#3b6fd6" textLength="76" lengthAdjust="spacingAndGlyphs">EasyEDA</text>
</svg>
</body></html>
